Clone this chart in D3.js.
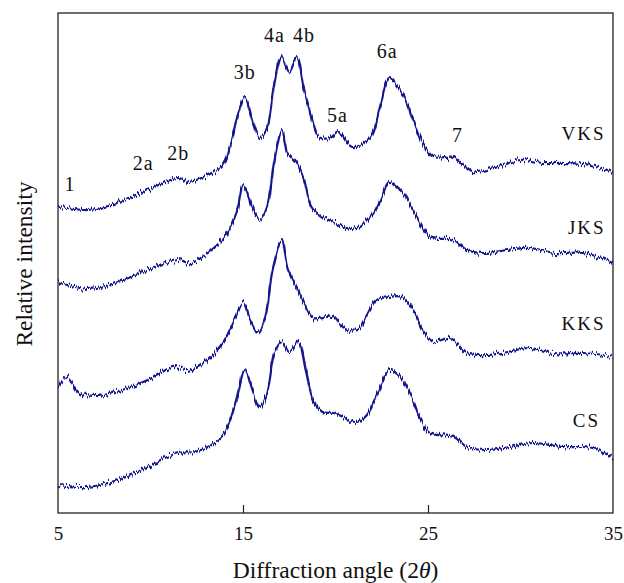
<!DOCTYPE html>
<html>
<head>
<meta charset="utf-8">
<script src="https://cdn.jsdelivr.net/npm/d3@7"></script>
<style>
  body { margin: 0; background: #fff; }
  text { font-family: "Liberation Serif", "Times New Roman", serif; fill: #111; }
</style>
</head>
<body>
<svg id="chart" width="624" height="583"></svg>
<script>
// diffraction angle (2θ) and relative intensity (arbitrary units, stacked)
var vksAngle = [5.0, 5.5, 6.6, 7.9, 9.2, 10.2, 11.5, 12.0, 13.1, 13.9, 14.4, 14.8, 15.1, 15.5, 15.9, 16.3, 16.7, 17.1, 17.5, 17.9, 18.3, 18.7, 19.1, 19.7, 20.2, 20.9, 21.9, 22.4, 22.9, 23.6, 24.2, 24.7, 25.3, 26.4, 26.9, 27.4, 28.6, 30.0, 31.2, 32.3, 33.8, 35.0];
var vksValue = [61.2, 61.0, 60.6, 61.6, 63.6, 65.2, 67.0, 66.2, 67.6, 69.6, 74.6, 80.6, 83.2, 78.6, 75.0, 77.0, 86.0, 91.2, 88.2, 91.0, 84.6, 79.2, 75.2, 75.0, 76.2, 73.2, 75.2, 81.2, 87.0, 84.0, 78.6, 74.0, 71.2, 71.2, 69.6, 68.2, 69.0, 70.6, 70.0, 70.0, 69.6, 68.2];

var jksAngle = [5.0, 6.6, 8.1, 9.2, 10.2, 11.5, 12.2, 13.1, 14.0, 14.7, 15.0, 15.5, 15.9, 16.3, 16.7, 17.1, 17.4, 17.9, 18.3, 18.7, 19.3, 19.9, 20.9, 21.9, 22.5, 22.9, 23.6, 24.4, 25.1, 26.4, 27.1, 28.0, 29.3, 30.5, 31.9, 33.4, 35.0];
var jksValue = [46.2, 44.8, 46.0, 47.6, 49.2, 50.6, 50.0, 52.0, 55.2, 60.6, 65.6, 61.2, 58.6, 61.2, 70.6, 76.6, 72.0, 70.0, 66.6, 61.2, 59.2, 58.2, 56.8, 59.2, 63.2, 66.2, 64.2, 59.2, 55.2, 54.6, 52.6, 52.0, 52.6, 53.0, 52.0, 52.0, 50.2];

var kksAngle = [5.0, 5.5, 6.1, 7.0, 8.1, 9.2, 10.2, 11.2, 12.0, 12.9, 13.9, 14.6, 15.0, 15.4, 15.8, 16.2, 16.6, 17.1, 17.4, 17.9, 18.3, 18.8, 19.8, 20.4, 21.2, 21.7, 22.2, 22.9, 23.6, 24.2, 24.7, 25.3, 26.2, 27.1, 28.2, 29.3, 30.5, 31.8, 33.4, 35.0];
var kksValue = [25.2, 27.2, 24.2, 23.4, 24.2, 25.6, 27.2, 29.2, 28.6, 30.2, 34.0, 39.2, 42.2, 38.6, 36.2, 39.2, 48.6, 54.6, 49.2, 45.0, 42.0, 39.0, 39.4, 37.2, 36.6, 39.6, 42.6, 43.2, 43.2, 40.6, 36.6, 34.2, 35.0, 32.0, 31.6, 32.2, 33.0, 32.0, 32.0, 31.4];

var csAngle = [5.0, 6.6, 7.7, 9.2, 10.2, 11.5, 12.4, 13.3, 14.0, 14.6, 15.1, 15.5, 15.9, 16.3, 16.7, 17.1, 17.5, 18.0, 18.4, 18.8, 19.3, 19.9, 20.4, 21.1, 21.7, 22.3, 22.9, 23.5, 24.1, 24.6, 25.1, 26.4, 27.1, 28.2, 29.4, 30.7, 32.3, 33.9, 35.0];
var csValue = [5.6, 5.2, 6.0, 8.0, 10.0, 12.0, 12.2, 13.6, 16.0, 22.0, 28.6, 24.6, 21.0, 24.0, 32.0, 34.2, 32.2, 34.2, 28.6, 22.6, 20.2, 20.0, 19.2, 18.0, 19.6, 24.0, 28.6, 27.2, 23.2, 18.6, 16.0, 15.2, 13.2, 12.6, 13.2, 14.0, 13.2, 13.0, 11.0];

var seriesNames = ["VKS", "JKS", "KKS", "CS"];
var nameAngle = [34.6, 34.6, 34.6, 34.3];
var nameLevel = [74.6, 55.8, 36.6, 17.2];

var peakText = ["1", "2a", "2b", "3b", "4a", "4b", "5a", "6a", "7"];
var peakAngle = [5.65, 9.6, 11.5, 15.1, 16.7, 18.3, 20.1, 22.8, 26.6];
var peakLevel = [64.4, 68.6, 70.6, 86.8, 94.2, 94.2, 78.2, 91.0, 74.2];

var xTicks = [5, 15, 25, 35];

var margin = {top: 13, right: 11, bottom: 70, left: 58};
var width = 624 - margin.left - margin.right;
var height = 583 - margin.top - margin.bottom;
var lineColor = "#15158c";

var svg = d3.select("#chart");

// noisy texture for the traces
var defs = svg.append("defs");
var filter = defs.append("filter")
  .attr("id", "noisy")
  .attr("filterUnits", "userSpaceOnUse")
  .attr("x", 0).attr("y", 0).attr("width", 624).attr("height", 583)
  .attr("color-interpolation-filters", "sRGB");
filter.append("feTurbulence")
  .attr("type", "fractalNoise")
  .attr("baseFrequency", "0.7 0.03")
  .attr("numOctaves", 2)
  .attr("seed", 3)
  .attr("result", "turb");
filter.append("feColorMatrix")
  .attr("in", "turb")
  .attr("type", "matrix")
  .attr("values", "0 0 0 0 0.5  0 1 0 0 0  0 0 0 0 0  0 0 0 0 1")
  .attr("result", "map");
filter.append("feDisplacementMap")
  .attr("in", "SourceGraphic")
  .attr("in2", "map")
  .attr("scale", 10)
  .attr("xChannelSelector", "R")
  .attr("yChannelSelector", "G");

var g = svg.append("g").attr("transform", `translate(${margin.left},${margin.top})`);

var x = d3.scaleLinear().domain([5, 35]).range([0, width]);
var y = d3.scaleLinear().domain([0, 100]).range([height, 0]);

var series = [
  {angle: vksAngle, value: vksValue},
  {angle: jksAngle, value: jksValue},
  {angle: kksAngle, value: kksValue},
  {angle: csAngle, value: csValue}
];

var line = d3.line()
  .x(d => x(d[0]))
  .y(d => y(d[1]))
  .curve(d3.curveCatmullRom.alpha(0.5));

g.append("g")
  .attr("filter", "url(#noisy)")
  .selectAll("path")
  .data(series)
  .enter()
  .append("path")
  .attr("d", s => line(d3.zip(s.angle, s.value)))
  .attr("fill", "none")
  .attr("stroke", lineColor)
  .attr("stroke-width", 2.2);

// frame
g.append("rect")
  .attr("width", width)
  .attr("height", height)
  .attr("fill", "none")
  .attr("stroke", "#222")
  .attr("stroke-width", 1.3);

var xAxis = g.append("g")
  .attr("transform", `translate(0,${height})`)
  .call(d3.axisBottom(x).tickValues(xTicks).tickSize(-8).tickPadding(14).tickFormat(d3.format("d")));
xAxis.select(".domain").remove();
xAxis.selectAll("line").attr("stroke", "#222").attr("stroke-width", 1.2)
  .filter(d => d == 5 || d == 35).remove();
xAxis.selectAll("text").attr("font-size", 19).attr("fill", "#111")
  .attr("font-family", "Liberation Serif, serif").attr("dy", "0.71em");

// axis titles
var title = svg.append("text")
  .attr("x", margin.left + width / 2)
  .attr("y", 578)
  .attr("text-anchor", "middle")
  .attr("font-size", 23.5);
title.append("tspan").text("Diffraction angle (2");
title.append("tspan").attr("font-style", "italic").text("θ");
title.append("tspan").text(")");

svg.append("text")
  .attr("transform", "translate(32,264) rotate(-90)")
  .attr("text-anchor", "middle")
  .attr("font-size", 23.5)
  .text("Relative intensity");

// peak labels
g.selectAll(".peak")
  .data(peakText)
  .enter()
  .append("text")
  .attr("class", "peak")
  .attr("x", (d, i) => x(peakAngle[i]))
  .attr("y", (d, i) => y(peakLevel[i]))
  .attr("text-anchor", "middle")
  .attr("font-size", 20)
  .attr("letter-spacing", 1)
  .text(d => d);

// series names
g.selectAll(".name")
  .data(seriesNames)
  .enter()
  .append("text")
  .attr("class", "name")
  .attr("x", (d, i) => x(nameAngle[i]))
  .attr("y", (d, i) => y(nameLevel[i]))
  .attr("text-anchor", "end")
  .attr("font-size", 19)
  .attr("letter-spacing", 2)
  .text(d => d);
</script>
</body>
</html>
